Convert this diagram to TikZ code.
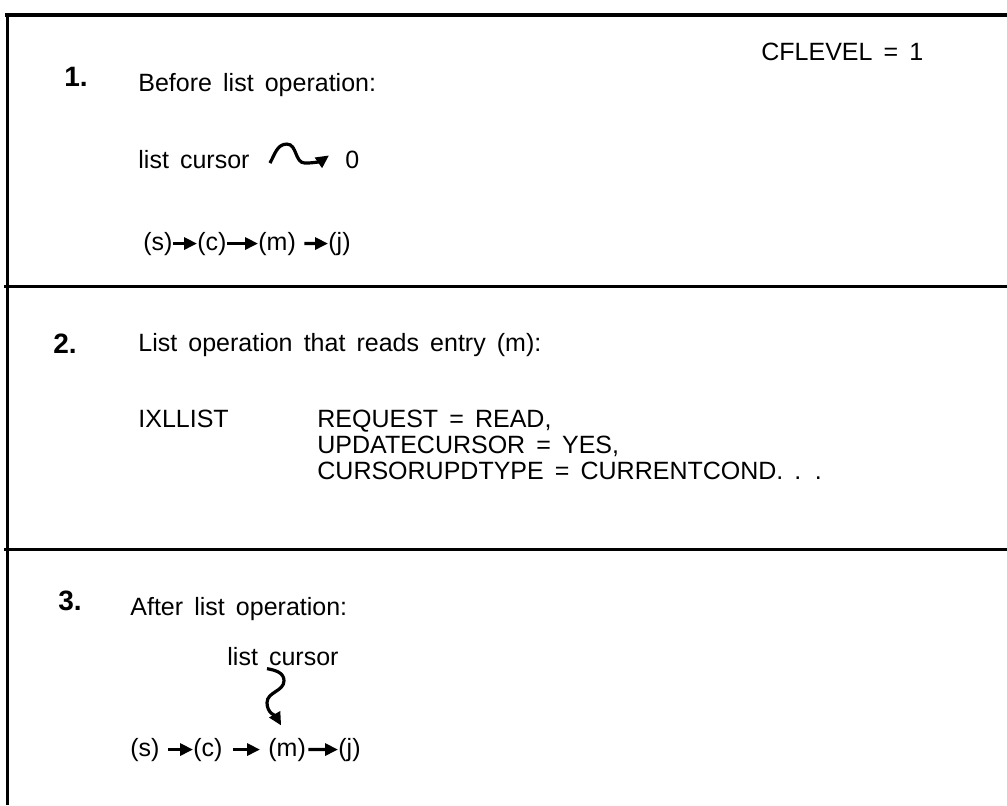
\documentclass[tikz,border=0pt]{standalone}
\usepackage{fontspec}
\setmainfont[WordSpace=1.6]{Liberation Sans}
\usetikzlibrary{arrows.meta}

\tikzset{
  txt/.style={anchor=base west, inner sep=0pt, font=\fontsize{12.5}{13}\selectfont},
  stepnum/.style={anchor=base west, inner sep=0pt, font=\fontsize{14}{16}\selectfont\bfseries},
  frameline/.style={line width=1.5pt},
  link/.style={line width=1.6pt, -{Triangle[length=6.5pt,width=6pt]}},
  wavy/.style={line width=1.6pt, -{Triangle[length=6.5pt,width=6pt]}}
}

\begin{document}
\begin{tikzpicture}[x=0.5pt, y=-0.5pt]
    \useasboundingbox (0,0) rectangle (1007,805);

    % frame and dividers
    \draw[frameline] (7,805) -- (7,15);
    \draw[line width=2pt] (5,15) -- (1007,15);
    \draw[frameline] (4,286) -- (1007,286);
    \draw[frameline] (4,549) -- (1007,549);

    % 1. before
    \node[stepnum] (num1) at (64,86) {1.};
    \node[txt] (head1) at (138,91) {Before list operation:};
    \node[txt] (level) at (761,60) {CFLEVEL = 1};
    \node[txt] (lc1) at (138,168) {list cursor};
    \node[txt] (zero1) at (345,168) {0};
    \draw[wavy] ([shift={(20,4)}]lc1.east) to[out=60,in=180] ++(17,-19)
        to[out=0,in=180] ++(18,19) to[out=0,in=215] ([shift={(-16,-4)}]zero1.west);

    \node[txt] (s1) at (143,250) {(s)};
    \node[txt] (c1) at (197,250) {(c)};
    \node[txt] (m1) at (258,250) {(m)};
    \node[txt] (j1) at (328,250) {(j)};
    \draw[link] (s1) -- (c1);
    \draw[link] (c1) -- (m1);
    \draw[link, shorten <=4pt] (m1) -- (j1);

    % 2. list operation
    \node[stepnum] (num2) at (53,353) {2.};
    \node[txt] (head2) at (138,351) {List operation that reads entry (m):};
    \node[txt] (macro) at (138,427) {IXLLIST};
    \node[txt] (req) at (317,427) {REQUEST = READ,};
    \node[txt] (upd) at (317,453) {UPDATECURSOR = YES,};
    \node[txt] (typ) at (317,479) {CURSORUPDTYPE = CURRENTCOND. . .};

    % 3. after
    \node[stepnum] (num3) at (58,610) {3.};
    \node[txt] (head3) at (130,615) {After list operation:};
    \node[txt] (lc3) at (227,665) {list cursor};

    \node[txt] (s3) at (130,756) {(s)};
    \node[txt] (c3) at (193,756) {(c)};
    \node[txt] (m3) at (268,756) {(m)};
    \node[txt] (j3) at (338,756) {(j)};
    \draw[link, shorten <=4pt] (s3) -- (c3);
    \draw[link, shorten <=5pt, shorten >=4pt] (c3) -- (m3);
    \draw[link, shorten <=1pt] (m3) -- (j3);

    \draw[wavy] ([shift={(40,3)}]lc3.south west) to[out=-10,in=90] ++(17,12)
        to[out=-90,in=90] ++(-17,22) to[out=-90,in=120] ([shift={(-6,-12)}]m3.north);
\end{tikzpicture}
\end{document}
